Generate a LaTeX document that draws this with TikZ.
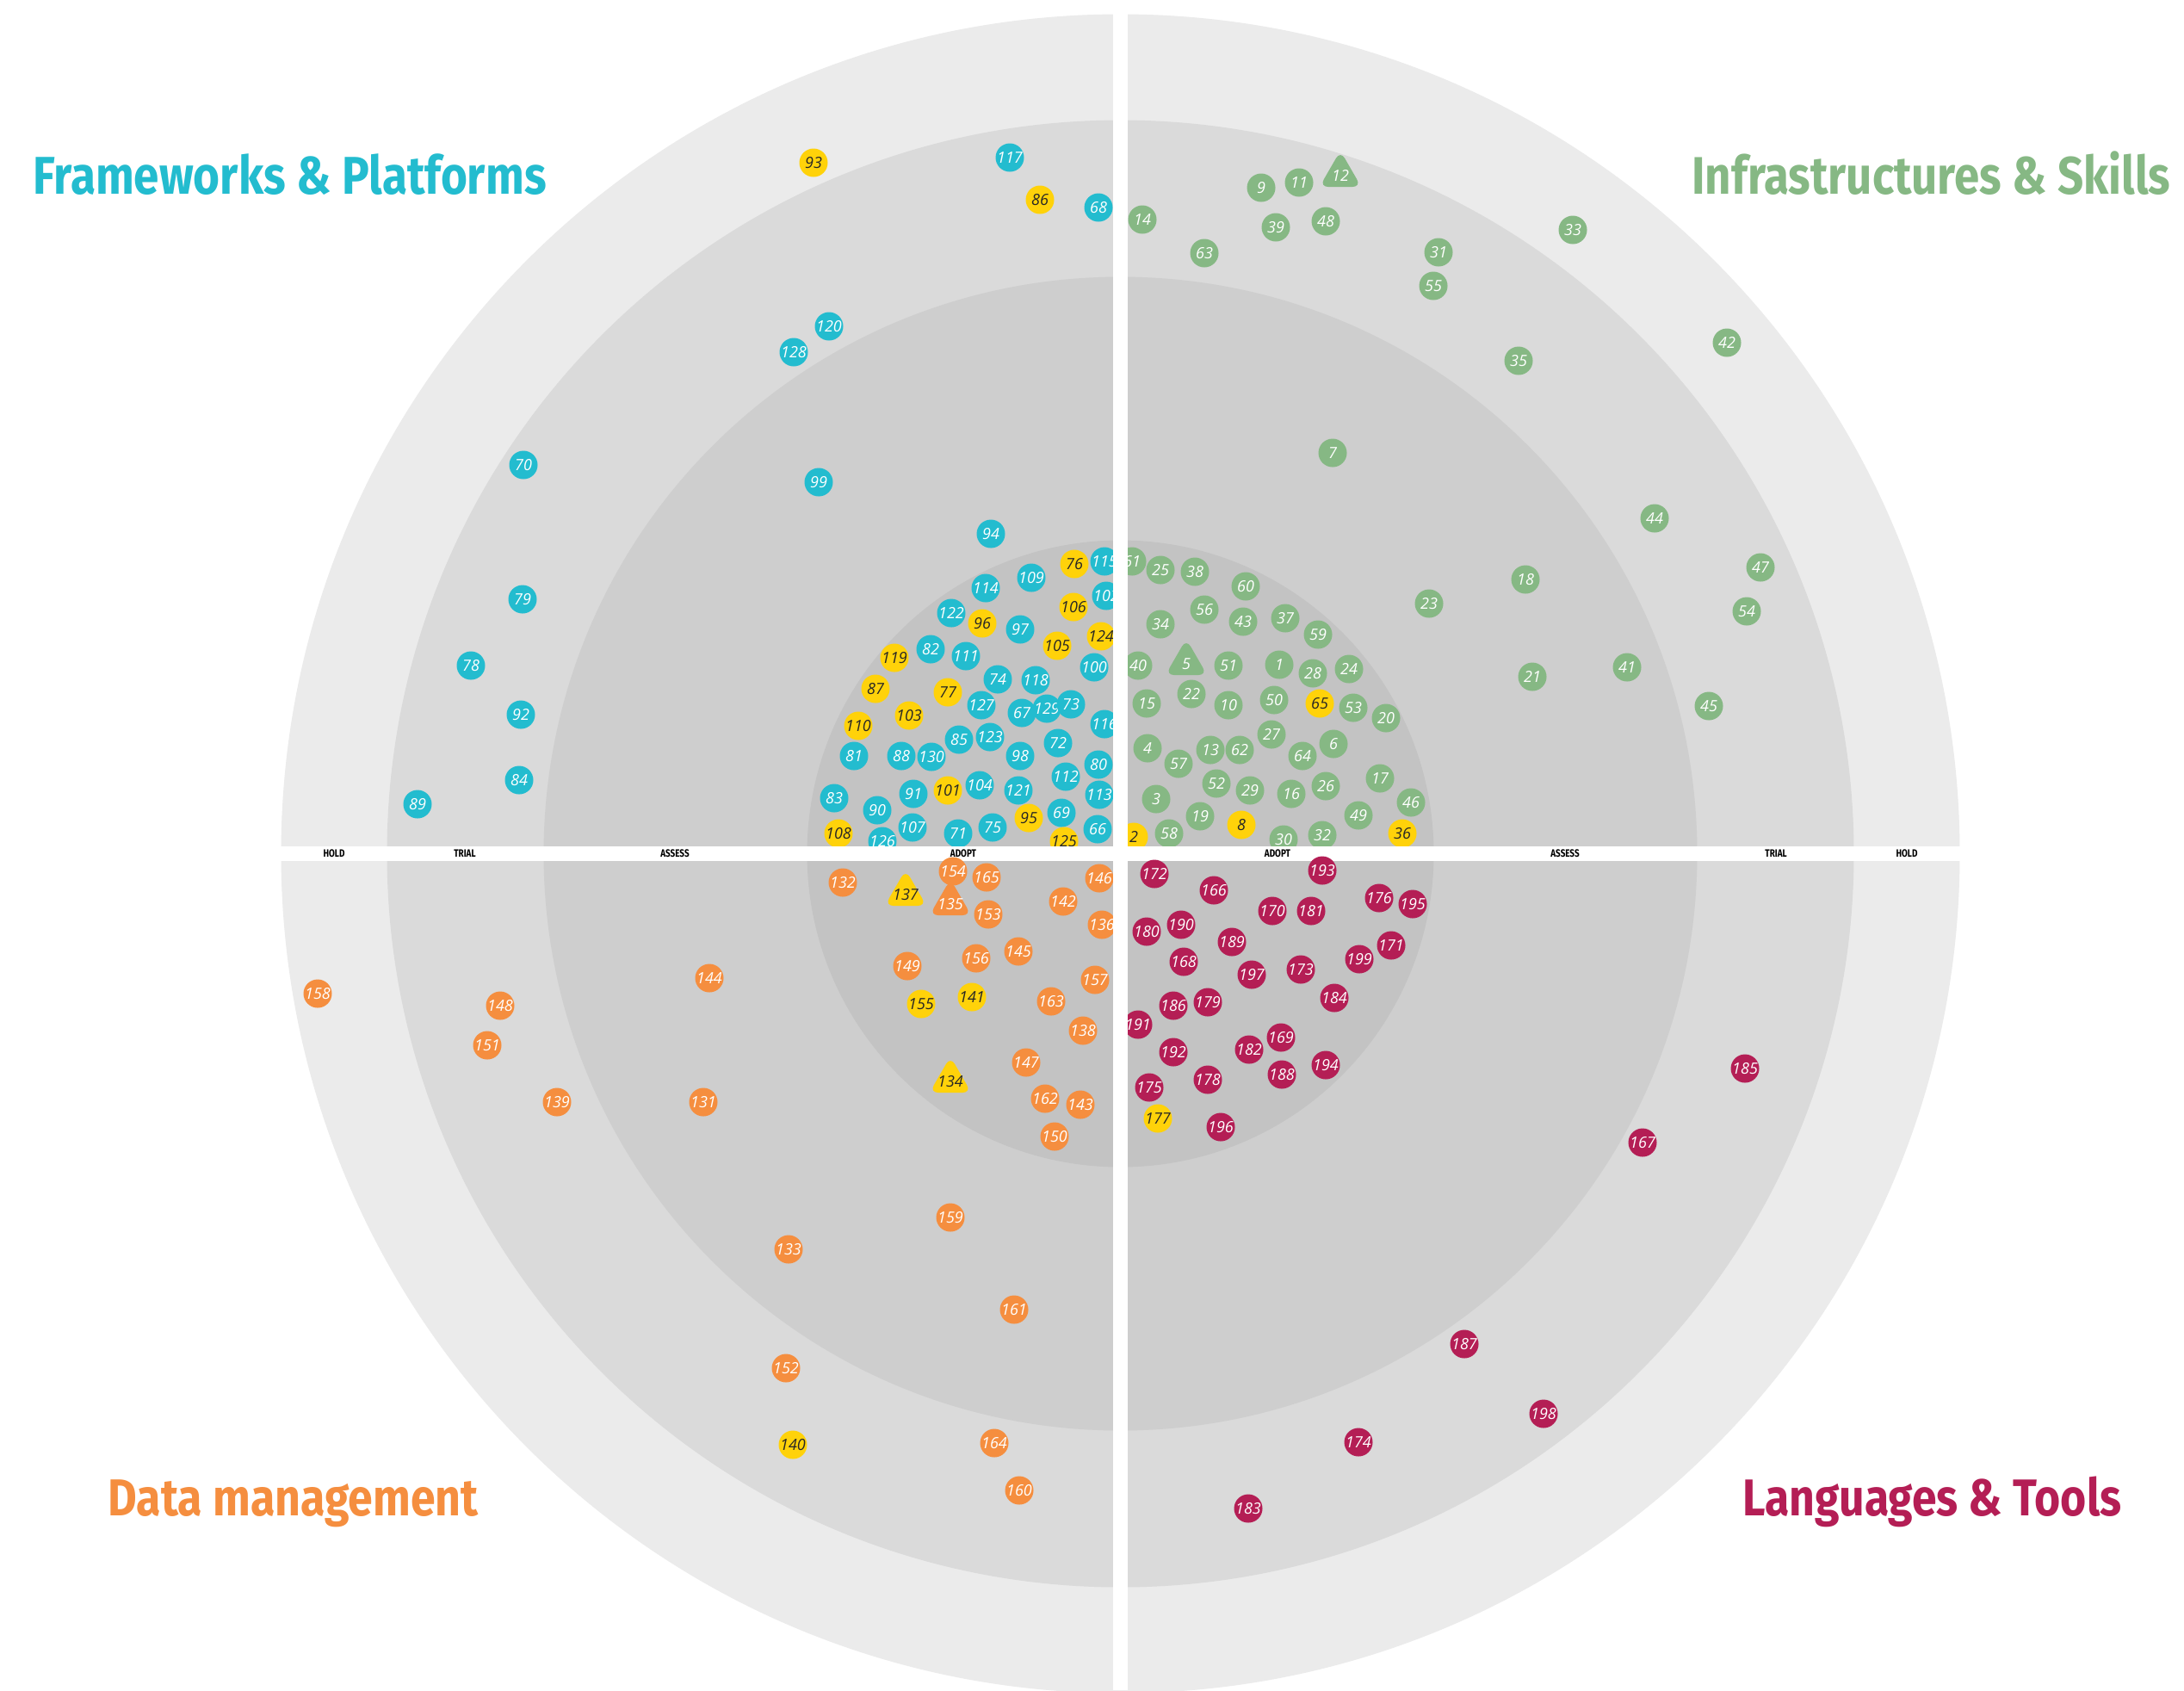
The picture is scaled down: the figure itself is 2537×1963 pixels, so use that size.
\documentclass[tikz,border=0pt]{standalone}
\usepackage{fontspec}
\usepackage{graphicx}
\usetikzlibrary{shapes.geometric}
\newfontfamily\blipfont{Open Sans}
\newfontfamily\titlefont{Fira Sans}[FakeStretch=0.86]
\newfontfamily\ringfont{Fira Sans}[FakeStretch=0.8]
\definecolor{fwc}{HTML}{23BCCF}
\definecolor{infc}{HTML}{86B884}
\definecolor{dmc}{HTML}{F58E3F}
\definecolor{ltc}{HTML}{B41E55}
\definecolor{yel}{HTML}{FFD20A}
\definecolor{rhold}{HTML}{EBEBEB}
\definecolor{rtrial}{HTML}{DADADA}
\definecolor{rassess}{HTML}{CECECE}
\definecolor{radopt}{HTML}{C3C3C3}
\newcommand\trinum[1]{\smash{\makebox[0pt]{\raisebox{-2.3pt}{#1}}}}
\tikzset{
  blipbase/.style={circle, inner sep=0pt, minimum size=9.9pt,
    font=\blipfont\itshape\fontsize{5.4}{5.4}\selectfont},
  tribase/.style={regular polygon, regular polygon sides=3, rounded corners=3pt,
    inner sep=0pt, minimum size=16.8pt,
    font=\blipfont\itshape\fontsize{5.4}{5.4}\selectfont},
  fwb/.style={blipbase, fill=fwc, text=white},
  infb/.style={blipbase, fill=infc, text=white},
  dmb/.style={blipbase, fill=dmc, text=white},
  ltb/.style={blipbase, fill=ltc, text=white},
  yelb/.style={blipbase, fill=yel, text=black!85},
  inft/.style={tribase, fill=infc, text=white},
  dmt/.style={tribase, fill=dmc, text=white},
  yelt/.style={tribase, fill=yel, text=black!85},
  ringlab/.style={inner sep=0pt, font=\ringfont\bfseries\fontsize{3.7}{3.7}\selectfont, text=black},
  quadlab/.style={inner sep=0pt}
}
\begin{document}
\begin{tikzpicture}[x=0.3pt,y=-0.3pt]
\useasboundingbox (0,0) rectangle (2537,1963);
\fill[white] (0,0) rectangle (2537,1963);
\coordinate (C) at (1301.5,991.5);
\fill[rhold] (C) circle[radius=292.5pt];
\fill[rtrial] (C) circle[radius=255.6pt];
\fill[rassess] (C) circle[radius=201pt];
\fill[radopt] (C) circle[radius=109.2pt];
% Frameworks & Platforms
\foreach \n/\x/\y in {94/1151/620, 115/1283/652, 109/1198/671, 114/1145/683, 102/1285/692, 122/1105/712, 97/1185/731, 82/1081/754, 111/1122/762, 100/1271/775, 74/1159/789, 118/1203/790, 127/1140/819, 67/1187/828, 129/1216/823, 73/1244/818, 116/1283/841, 85/1114/859, 123/1150/856, 72/1229/863, 81/992/878, 88/1047/878, 130/1082/879, 98/1185/878, 80/1276/888, 112/1238/902, 104/1138/912, 121/1183/918, 83/969/927, 91/1061/922, 113/1277/923, 90/1019/941, 69/1233/944, 107/1060/961, 71/1113/968, 75/1153/961, 66/1275/963, 126/1025/977, 117/1173/183, 68/1276/241, 120/963/379, 128/922/409, 70/608/540, 99/951/560, 79/607/696, 78/547/773, 92/605/830, 84/603/906, 89/485/934}
  \node[fwb] (b\n) at (\x,\y) {\n};
\foreach \n/\x/\y in {76/1248/655, 106/1247/705, 96/1141/724, 124/1279/739, 105/1228/750, 119/1039/764, 87/1017/800, 77/1101/804, 103/1056/831, 110/997/843, 101/1101/918, 95/1195/950, 108/974/968, 125/1236/977, 93/945/189, 86/1208/232}
  \node[yelb] (b\n) at (\x,\y) {\n};
% Infrastructures & Skills
\foreach \n/\x/\y in {61/1315/652, 25/1348/662, 38/1388/664, 60/1447/681, 23/1660/701, 56/1399/708, 34/1348/725, 43/1444/722, 37/1493/718, 59/1531/737, 40/1322/773, 51/1427/773, 1/1486/772, 28/1525/782, 24/1567/777, 15/1332/817, 22/1384/806, 10/1427/819, 50/1480/813, 53/1572/822, 20/1610/834, 27/1477/853, 6/1549/864, 4/1333/869, 13/1406/871, 62/1440/871, 57/1369/887, 64/1513/878, 17/1603/904, 52/1413/910, 29/1452/918, 16/1500/922, 26/1540/913, 46/1639/932, 3/1343/928, 19/1394/948, 49/1578/947, 58/1358/968, 30/1491/975, 32/1536/970, 14/1327/255, 9/1465/218, 11/1509/212, 39/1482/264, 48/1540/257, 63/1399/294, 31/1671/293, 55/1665/332, 33/1827/267, 42/2006/398, 35/1764/419, 7/1548/526, 44/1922/602, 47/2045/659, 18/1772/673, 54/2029/710, 21/1780/786, 41/1890/775, 45/1985/820}
  \node[infb] (b\n) at (\x,\y) {\n};
\foreach \n/\x/\y in {5/1378/770, 12/1557/203}
  \node[inft] (b\n) at (\x,\y) {\trinum{\n}};
\foreach \n/\x/\y in {65/1533/817, 8/1442/958, 2/1317/972, 36/1629/968}
  \node[yelb] (b\n) at (\x,\y) {\n};
% horizontal band
\fill[white] (0,983) rectangle (2537,1000);
% Data management
\foreach \n/\x/\y in {132/979/1025, 154/1107/1012, 165/1146/1019, 153/1148/1062, 146/1277/1020, 142/1235/1047, 136/1280/1074, 145/1183/1105, 156/1134/1113, 149/1054/1122, 157/1272/1138, 163/1221/1163, 138/1258/1197, 147/1192/1234, 162/1214/1276, 143/1255/1283, 150/1225/1320, 158/369/1154, 148/581/1168, 144/824/1136, 151/566/1214, 139/647/1280, 131/817/1280, 159/1104/1414, 133/916/1451, 161/1178/1521, 152/913/1589, 164/1155/1676, 160/1184/1731}
  \node[dmb] (b\n) at (\x,\y) {\n};
\foreach \n/\x/\y in {135/1104/1049}
  \node[dmt] (b\n) at (\x,\y) {\trinum{\n}};
\foreach \n/\x/\y in {155/1070/1166, 141/1129/1158, 140/921/1678}
  \node[yelb] (b\n) at (\x,\y) {\n};
\foreach \n/\x/\y in {137/1052/1038, 134/1104/1255}
  \node[yelt] (b\n) at (\x,\y) {\trinum{\n}};
% Languages & Tools
\foreach \n/\x/\y in {172/1341/1015, 193/1536/1011, 166/1410/1034, 176/1602/1043, 195/1641/1050, 170/1478/1058, 181/1523/1058, 180/1332/1082, 190/1372/1074, 189/1431/1094, 171/1616/1098, 199/1579/1114, 168/1375/1117, 197/1454/1132, 173/1511/1126, 184/1550/1159, 186/1363/1168, 179/1403/1164, 191/1322/1190, 169/1488/1205, 182/1451/1219, 192/1363/1222, 194/1540/1237, 188/1489/1248, 178/1403/1254, 175/1335/1263, 196/1418/1309, 185/2027/1241, 167/1908/1327, 187/1701/1561, 198/1793/1642, 174/1578/1675, 183/1450/1752}
  \node[ltb] (b\n) at (\x,\y) {\n};
\foreach \n/\x/\y in {177/1345/1299}
  \node[yelb] (b\n) at (\x,\y) {\n};
% vertical band
\fill[white] (1293,0) rectangle (1310,1963);
% ring labels
\foreach \t/\x [count=\i] in {HOLD/388, TRIAL/540, ASSESS/784, ADOPT/1119, ADOPT/1484, ASSESS/1818, TRIAL/2063, HOLD/2215}
  \node[ringlab] (r\i) at (\x,991.5) {\t};
% quadrant labels
\node[quadlab, anchor=base west, text=fwc] (qfw) at (38,225)
  {\resizebox{178.8pt}{!}{\titlefont\bfseries\fontsize{19}{19}\selectfont Frameworks \& Platforms}};
\node[quadlab, anchor=base east, text=infc] (qinf) at (2522,225)
  {\resizebox{166.8pt}{!}{\titlefont\bfseries\fontsize{19}{19}\selectfont Infrastructures \& Skills}};
\node[quadlab, anchor=base west, text=dmc] (qdm) at (125,1760)
  {\resizebox{129pt}{!}{\titlefont\bfseries\fontsize{19}{19}\selectfont Data management}};
\node[quadlab, anchor=base east, text=ltc] (qlt) at (2465,1760)
  {\resizebox{132pt}{!}{\titlefont\bfseries\fontsize{19}{19}\selectfont Languages \& Tools}};
\end{tikzpicture}
\end{document}
